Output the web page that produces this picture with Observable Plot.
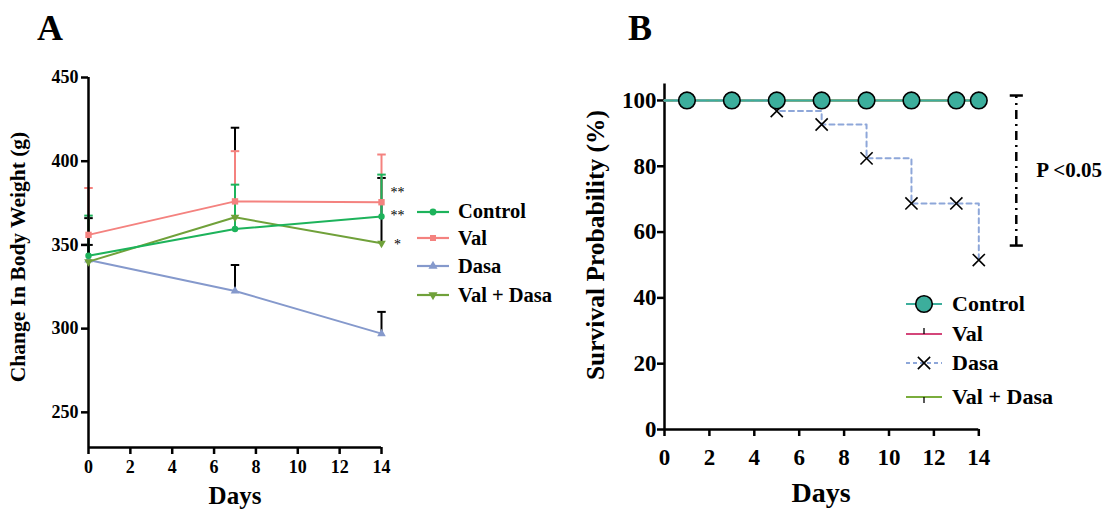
<!DOCTYPE html>
<html><head><meta charset="utf-8">
<script src="https://cdn.jsdelivr.net/npm/d3@7"></script>
<script src="https://cdn.jsdelivr.net/npm/@observablehq/plot@0.6"></script>
<style>
body{margin:0;background:#fff;}
#root{position:relative;width:1107px;height:510px;font-family:"Liberation Serif",serif;font-weight:bold;color:#000;}
.abs{position:absolute;white-space:nowrap;line-height:1;}
.c{transform:translate(-50%,-50%);}
.r{transform:translate(-50%,-50%) rotate(-90deg);}
.leg{position:absolute;display:flex;align-items:center;white-space:nowrap;}
.leg svg{overflow:visible;}
</style></head><body><div id="root"></div>
<script>
// ---------- Panel A data: body weight ----------
const days = [0, 7, 14];
const controlW = [343.5, 359.5, 367];
const controlErr = [367.5, 386, 392];
const valW = [356, 376, 375.5];
const valErr = [384, 406, 404];
const dasaW = [341, 322.5, 297];
const dasaErr = [350, 338, 310];
const valDasaW = [340, 366.5, 351];
const valDasaErr = [366, 420, 390];
const sigMarks = [["Val", "**"], ["Control", "**"], ["Val + Dasa", "*"]];
const ticksA_y = [250, 300, 350, 400, 450];
const ticksX = [0, 2, 4, 6, 8, 10, 12, 14];
const yDomainA = [229, 450];

// ---------- Panel B data: survival ----------
const survDays = [0, 1, 3, 5, 7, 9, 11, 13, 14];
const controlSurv = [100, 100, 100, 100, 100, 100, 100, 100, 100];
const valSurv = [100, 100, 100, 100, 100, 100, 100, 100, 100];
const valDasaSurv = [100, 100, 100, 100, 100, 100, 100, 100, 100];
const dasaSurv = [100, 100, 100, 96.8, 92.7, 82.4, 68.7, 68.7, 51.5];
const ticksB_y = [0, 20, 40, 60, 80, 100];
const yDomainB = [0, 105];
const pBracket = [55.9, 101.5];
const pBracketX = 15.67;
const pLabel = "P <0.05";

const names = ["Control", "Val", "Dasa", "Val + Dasa"];
const colA = {"Control": "#1db35b", "Val": "#f4827f", "Dasa": "#8599cc", "Val + Dasa": "#70a13a"};
const colB = {"Control": "#3cae9c", "Val": "#d4467a", "Dasa": "#8ea7d9", "Val + Dasa": "#7aad3c"};

const FONT = "Liberation Serif, serif";
const capSym = {draw(ctx, size) { const w = Math.sqrt(size); ctx.moveTo(-w, 0); ctx.lineTo(w, 0); }};

const rows = (s, w, e) => days.map((d, i) => ({s, day: d, w: w[i], e: e[i]}));
const A = {
  "Control": rows("Control", controlW, controlErr),
  "Val": rows("Val", valW, valErr),
  "Dasa": rows("Dasa", dasaW, dasaErr),
  "Val + Dasa": rows("Val + Dasa", valDasaW, valDasaErr)
};
const errMarks = (data, color) => [
  Plot.ruleX(data, {x: "day", y1: "w", y2: "e", stroke: color, strokeWidth: 2}),
  Plot.dot(data, {x: "day", y: "e", symbol: capSym, r: 2.4, fill: "none", stroke: color, strokeWidth: 2})
];
const symA = {"Control": "circle", "Val": "square", "Dasa": "triangle", "Val + Dasa": "triangle"};
const rotA = {"Control": 0, "Val": 0, "Dasa": 0, "Val + Dasa": 180};
const rA = {"Control": 3.2, "Val": 3.6, "Dasa": 3.2, "Val + Dasa": 3.2};

const sigData = sigMarks.map(([s, t]) => ({day: 14, w: A[s][2].w, t, s}));
const sigDy = {"Val": -10, "Control": -1, "Val + Dasa": 1};

const plotA = Plot.plot({
  width: 560, height: 510,
  marginLeft: 88, marginRight: 179, marginTop: 77, marginBottom: 63,
  x: {domain: [0, 14]}, y: {domain: yDomainA},
  style: {fontFamily: FONT, fontWeight: "bold", color: "#000", background: "transparent", overflow: "visible"},
  marks: [
    Plot.axisY({ticks: ticksA_y, tickSize: 7, tickPadding: 3, fontSize: 18, fontWeight: "bold", label: null, strokeWidth: 2.5}),
    Plot.axisX({ticks: ticksX, tickSize: 7, tickPadding: 6, fontSize: 18, fontWeight: "bold", label: null, strokeWidth: 2.5}),
    ...errMarks(A["Val + Dasa"], "#000"),
    ...errMarks(A["Dasa"], "#000"),
    ...errMarks(A["Val"], colA["Val"]),
    ...errMarks(A["Control"], colA["Control"]),
    Plot.ruleX([0], {stroke: "#000", strokeWidth: 2.5}),
    Plot.ruleY([yDomainA[0]], {stroke: "#000", strokeWidth: 2.5}),
    ...["Dasa", "Val + Dasa", "Val", "Control"].flatMap(s => [
      Plot.line(A[s], {x: "day", y: "w", stroke: colA[s], strokeWidth: 2}),
      Plot.dot(A[s], {x: "day", y: "w", symbol: symA[s], r: rA[s], fill: colA[s], rotate: rotA[s]})
    ]),
    ...sigData.map(d => Plot.text([d], {x: "day", y: "w", text: "t", dx: 16, dy: sigDy[d.s], fontSize: 14, fontWeight: "normal", fill: "#000"}))
  ]
});

// ---------- Panel B ----------
const survRows = (s, v) => survDays.map((d, i) => ({s, day: d, p: v[i]}));
const B = {
  "Control": survRows("Control", controlSurv),
  "Val": survRows("Val", valSurv),
  "Val + Dasa": survRows("Val + Dasa", valDasaSurv),
  "Dasa": survRows("Dasa", dasaSurv)
};
const markerRows = arr => arr.filter(d => d.day > 0);
const bracket = [{x: pBracketX, y1: pBracket[0], y2: pBracket[1]}];
const bracketCaps = pBracket.map(y => ({x: pBracketX, y}));

const plotB = Plot.plot({
  width: 547, height: 510,
  marginLeft: 104, marginRight: 128.7, marginTop: 83.5, marginBottom: 81,
  x: {domain: [0, 14]}, y: {domain: yDomainB},
  style: {fontFamily: FONT, fontWeight: "bold", color: "#000", background: "transparent", overflow: "visible"},
  marks: [
    Plot.axisY({ticks: ticksB_y, tickSize: 7, tickPadding: 1, fontSize: 23, fontWeight: "bold", label: null, strokeWidth: 2.5}),
    Plot.axisX({ticks: ticksX, tickSize: 7, tickPadding: 12, fontSize: 23, fontWeight: "bold", label: null, strokeWidth: 2.5}),
    Plot.ruleX([0], {stroke: "#000", strokeWidth: 2.5}),
    Plot.ruleY([yDomainB[0]], {stroke: "#000", strokeWidth: 2.5}),
    Plot.line(B["Val"], {x: "day", y: "p", curve: "step-after", stroke: colB["Val"], strokeWidth: 2}),
    Plot.line(B["Val + Dasa"], {x: "day", y: "p", curve: "step-after", stroke: colB["Val + Dasa"], strokeWidth: 2}),
    Plot.line(B["Dasa"], {x: "day", y: "p", curve: "step-after", stroke: colB["Dasa"], strokeWidth: 2, strokeDasharray: "5,4"}),
    Plot.dot(markerRows(B["Dasa"]), {x: "day", y: "p", symbol: "times", r: 5.6, stroke: "#000", strokeWidth: 1.6}),
    Plot.line(B["Control"], {x: "day", y: "p", curve: "step-after", stroke: colB["Control"], strokeWidth: 2}),
    Plot.dot(markerRows(B["Control"]), {x: "day", y: "p", r: 8.3, fill: colB["Control"], stroke: "#000", strokeWidth: 1.6}),
    Plot.ruleX(bracket, {x: "x", y1: "y1", y2: "y2", stroke: "#000", strokeWidth: 2.5, strokeDasharray: "9,5,2,5"}),
    Plot.dot(bracketCaps, {x: "x", y: "y", symbol: capSym, r: 3.7, fill: "none", stroke: "#000", strokeWidth: 2.5}),
    Plot.text([pLabel], {x: pBracketX, y: (pBracket[0] + pBracket[1]) / 2, dx: 20, textAnchor: "start", fontSize: 21, fontWeight: "bold", fill: "#000"})
  ]
});

const root = document.getElementById("root");
const place = (el, left, top) => { el.style.position = "absolute"; el.style.left = left + "px"; el.style.top = top + "px"; root.appendChild(el); };
place(plotA, 0, 0);
place(plotB, 560, 0);

const addText = (txt, x, y, size, cls) => {
  const d = document.createElement("div");
  d.className = "abs " + cls; d.textContent = txt; d.style.fontSize = size + "px";
  d.style.left = x + "px"; d.style.top = y + "px"; root.appendChild(d);
};
addText("A", 50, 28, 36, "c");
addText("B", 640, 28, 36, "c");
addText("Change In Body Weight (g)", 19, 257, 21.5, "r");
addText("Days", 235, 495, 25, "c");
addText("Survival Probability (%)", 596, 245, 25.5, "r");
addText("Days", 821, 493, 28, "c");

// ---------- Legends ----------
const NS = "http://www.w3.org/2000/svg";
function legendRow(x, y, label, size, gap, drawSwatch) {
  const row = document.createElement("div");
  row.className = "leg"; row.style.left = x + "px"; row.style.top = (y - 15) + "px"; row.style.height = "30px";
  row.style.fontSize = size + "px";
  const svg = document.createElementNS(NS, "svg");
  svg.setAttribute("width", 36); svg.setAttribute("height", 30);
  drawSwatch(svg);
  const t = document.createElement("span"); t.textContent = label; t.style.marginLeft = gap + "px";
  row.appendChild(svg); row.appendChild(t); root.appendChild(row);
}
function el(svg, tag, attrs) { const e = document.createElementNS(NS, tag); for (const k in attrs) e.setAttribute(k, attrs[k]); svg.appendChild(e); return e; }
const symPath = (name, size) => d3.symbol(name, size)();

// Panel A legend
const legA_y = [211.7, 238, 266, 295];
names.forEach((s, i) => legendRow(417, legA_y[i], s, 20.5, 5, svg => {
  el(svg, "line", {x1: 0, x2: 32, y1: 15, y2: 15, stroke: colA[s], "stroke-width": 2.2});
  const sym = {"Control": d3.symbolCircle, "Val": d3.symbolSquare, "Dasa": d3.symbolTriangle, "Val + Dasa": d3.symbolTriangle}[s];
  el(svg, "path", {d: symPath(sym, 36), fill: colA[s], transform: `translate(16,15) rotate(${rotA[s]})`});
}));

// Panel B legend
const legB_y = [304, 334, 362.7, 397.3];
names.forEach((s, i) => legendRow(906, legB_y[i], s, 22, 10, svg => {
  const dash = s === "Dasa" ? {"stroke-dasharray": "4,3"} : {};
  el(svg, "line", {x1: 0, x2: 36, y1: 15, y2: 15, stroke: colB[s], "stroke-width": 2, ...dash});
  if (s === "Control") el(svg, "circle", {cx: 18, cy: 15, r: 8.3, fill: colB[s], stroke: "#000", "stroke-width": 1.6});
  if (s === "Val") el(svg, "line", {x1: 18, x2: 18, y1: 9, y2: 15, stroke: "#000", "stroke-width": 1.3});
  if (s === "Val + Dasa") el(svg, "line", {x1: 18, x2: 18, y1: 15, y2: 21, stroke: "#000", "stroke-width": 1.3});
  if (s === "Dasa") el(svg, "path", {d: symPath(d3.symbolTimes, 100), fill: "none", stroke: "#000", "stroke-width": 1.6, transform: "translate(18,15)"});
}));
</script></body></html>
